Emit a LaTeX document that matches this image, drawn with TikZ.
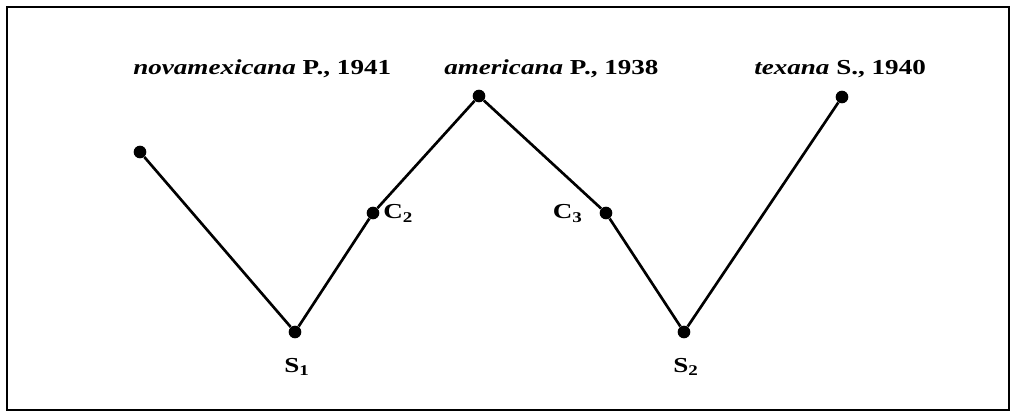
\documentclass[tikz,border=0pt]{standalone}
\usepackage{fontspec}
\setmainfont{Liberation Serif}
\newcommand{\wide}[1]{\scalebox{1.27}[1]{#1}}
\begin{document}
\begin{tikzpicture}[x=0.75pt,y=-0.75pt,
  dot/.style={circle,fill=black,inner sep=0pt,minimum size=9.5pt},
  edge/.style={line width=2pt},
  lbl/.style={font=\fontsize{16}{19}\selectfont\bfseries,inner sep=0pt}]
\useasboundingbox (0,0) rectangle (1016,416);
\draw[line width=2.2pt] (7,7) rectangle (1009,410);
\node[dot] (n) at (140,152) {};
\node[dot] (a) at (479,96) {};
\node[dot] (t) at (842,97) {};
\node[dot] (c2) at (373,213) {};
\node[dot] (c3) at (606,213) {};
\node[dot] (s1) at (295,332) {};
\node[dot] (s2) at (684,332) {};
\draw[edge] (n) -- (s1) -- (c2) -- (a) -- (c3) -- (s2) -- (t);
\node[lbl,anchor=base west] (ln) at (133,75) {\wide{\textit{novamexicana} P., 1941}};
\node[lbl,anchor=base west] (la) at (444,75) {\wide{\textit{americana} P., 1938}};
\node[lbl,anchor=base west] (lt) at (754,75) {\wide{\textit{texana} S., 1940}};
\node[lbl,anchor=base west] (lc2) at (383,219) {\wide{C\textsubscript{2}}};
\node[lbl,anchor=base east] (lc3) at (583,219) {\wide{C\textsubscript{3}}};
\node[lbl,anchor=base] (ls1) at (297,372) {\wide{S\textsubscript{1}}};
\node[lbl,anchor=base] (ls2) at (686,372) {\wide{S\textsubscript{2}}};
\end{tikzpicture}
\end{document}
